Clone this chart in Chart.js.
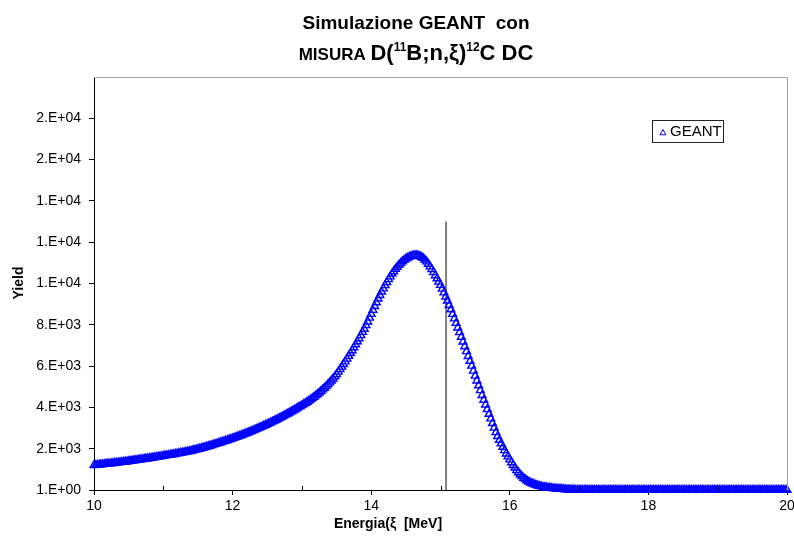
<!DOCTYPE html>
<html>
<head>
<meta charset="utf-8">
<title>Simulazione GEANT</title>
<script src="https://cdn.jsdelivr.net/npm/chart.js@4.4.0/dist/chart.umd.min.js"></script>
<style>
  html, body { margin: 0; padding: 0; background: #fff; }
  #wrap { width: 794px; height: 536px; }
</style>
</head>
<body>
<div id="wrap"><canvas id="geantChart" width="794" height="536"></canvas></div>
<script>
// Energia (MeV) and GEANT yield
const energia = [
  10.000, 10.025, 10.050, 10.075, 10.100, 10.125, 10.150, 10.175, 10.200, 10.225,
  10.250, 10.275, 10.300, 10.325, 10.350, 10.375, 10.400, 10.425, 10.450, 10.475,
  10.500, 10.525, 10.550, 10.575, 10.600, 10.625, 10.650, 10.675, 10.700, 10.725,
  10.750, 10.775, 10.800, 10.825, 10.850, 10.875, 10.900, 10.925, 10.950, 10.975,
  11.000, 11.025, 11.050, 11.075, 11.100, 11.125, 11.150, 11.175, 11.200, 11.225,
  11.250, 11.275, 11.300, 11.325, 11.350, 11.375, 11.400, 11.425, 11.450, 11.475,
  11.500, 11.525, 11.550, 11.575, 11.600, 11.625, 11.650, 11.675, 11.700, 11.725,
  11.750, 11.775, 11.800, 11.825, 11.850, 11.875, 11.900, 11.925, 11.950, 11.975,
  12.000, 12.025, 12.050, 12.075, 12.100, 12.125, 12.150, 12.175, 12.200, 12.225,
  12.250, 12.275, 12.300, 12.325, 12.350, 12.375, 12.400, 12.425, 12.450, 12.475,
  12.500, 12.525, 12.550, 12.575, 12.600, 12.625, 12.650, 12.675, 12.700, 12.725,
  12.750, 12.775, 12.800, 12.825, 12.850, 12.875, 12.900, 12.925, 12.950, 12.975,
  13.000, 13.025, 13.050, 13.075, 13.100, 13.125, 13.150, 13.175, 13.200, 13.225,
  13.250, 13.275, 13.300, 13.325, 13.350, 13.375, 13.400, 13.425, 13.450, 13.475,
  13.500, 13.525, 13.550, 13.575, 13.600, 13.625, 13.650, 13.675, 13.700, 13.725,
  13.750, 13.775, 13.800, 13.825, 13.850, 13.875, 13.900, 13.925, 13.950, 13.975,
  14.000, 14.025, 14.050, 14.075, 14.100, 14.125, 14.150, 14.175, 14.200, 14.225,
  14.250, 14.275, 14.300, 14.325, 14.350, 14.375, 14.400, 14.425, 14.450, 14.475,
  14.500, 14.525, 14.550, 14.575, 14.600, 14.625, 14.650, 14.675, 14.700, 14.725,
  14.750, 14.775, 14.800, 14.825, 14.850, 14.875, 14.900, 14.925, 14.950, 14.975,
  15.000, 15.025, 15.050, 15.075, 15.100, 15.125, 15.150, 15.175, 15.200, 15.225,
  15.250, 15.275, 15.300, 15.325, 15.350, 15.375, 15.400, 15.425, 15.450, 15.475,
  15.500, 15.525, 15.550, 15.575, 15.600, 15.625, 15.650, 15.675, 15.700, 15.725,
  15.750, 15.775, 15.800, 15.825, 15.850, 15.875, 15.900, 15.925, 15.950, 15.975,
  16.000, 16.025, 16.050, 16.075, 16.100, 16.125, 16.150, 16.175, 16.200, 16.225,
  16.250, 16.275, 16.300, 16.325, 16.350, 16.375, 16.400, 16.425, 16.450, 16.475,
  16.500, 16.525, 16.550, 16.575, 16.600, 16.625, 16.650, 16.675, 16.700, 16.725,
  16.750, 16.775, 16.800, 16.825, 16.850, 16.875, 16.900, 16.925, 16.950, 16.975,
  17.000, 17.025, 17.050, 17.075, 17.100, 17.125, 17.150, 17.175, 17.200, 17.225,
  17.250, 17.275, 17.300, 17.325, 17.350, 17.375, 17.400, 17.425, 17.450, 17.475,
  17.500, 17.525, 17.550, 17.575, 17.600, 17.625, 17.650, 17.675, 17.700, 17.725,
  17.750, 17.775, 17.800, 17.825, 17.850, 17.875, 17.900, 17.925, 17.950, 17.975,
  18.000, 18.025, 18.050, 18.075, 18.100, 18.125, 18.150, 18.175, 18.200, 18.225,
  18.250, 18.275, 18.300, 18.325, 18.350, 18.375, 18.400, 18.425, 18.450, 18.475,
  18.500, 18.525, 18.550, 18.575, 18.600, 18.625, 18.650, 18.675, 18.700, 18.725,
  18.750, 18.775, 18.800, 18.825, 18.850, 18.875, 18.900, 18.925, 18.950, 18.975,
  19.000, 19.025, 19.050, 19.075, 19.100, 19.125, 19.150, 19.175, 19.200, 19.225,
  19.250, 19.275, 19.300, 19.325, 19.350, 19.375, 19.400, 19.425, 19.450, 19.475,
  19.500, 19.525, 19.550, 19.575, 19.600, 19.625, 19.650, 19.675, 19.700, 19.725,
  19.750, 19.775, 19.800, 19.825, 19.850, 19.875, 19.900, 19.925, 19.950, 19.975,
  20.000
];
const yieldGeant = [
  1200, 1209, 1218, 1227, 1236, 1245, 1254, 1263, 1272, 1281,
  1290, 1300, 1310, 1320, 1330, 1340, 1350, 1361, 1372, 1383,
  1395, 1406, 1418, 1430, 1442, 1454, 1466, 1478, 1490, 1502,
  1515, 1527, 1540, 1553, 1566, 1579, 1593, 1606, 1620, 1635,
  1650, 1664, 1678, 1692, 1706, 1720, 1735, 1750, 1765, 1780,
  1795, 1811, 1827, 1843, 1860, 1878, 1897, 1917, 1937, 1958,
  1980, 2002, 2025, 2048, 2072, 2096, 2120, 2145, 2170, 2196,
  2222, 2249, 2276, 2303, 2330, 2357, 2385, 2413, 2442, 2471,
  2500, 2530, 2560, 2591, 2622, 2654, 2686, 2719, 2752, 2786,
  2820, 2855, 2890, 2926, 2962, 2999, 3036, 3074, 3112, 3151,
  3190, 3230, 3270, 3311, 3352, 3394, 3437, 3481, 3525, 3570,
  3615, 3661, 3708, 3755, 3803, 3851, 3900, 3950, 4000, 4051,
  4103, 4156, 4210, 4265, 4320, 4380, 4440, 4505, 4570, 4640,
  4710, 4785, 4860, 4940, 5020, 5110, 5200, 5295, 5390, 5495,
  5600, 5720, 5840, 5965, 6090, 6220, 6350, 6485, 6620, 6760,
  6900, 7045, 7190, 7340, 7490, 7645, 7800, 7975, 8150, 8335,
  8520, 8710, 8900, 9080, 9260, 9430, 9600, 9755, 9910, 10055,
  10200, 10335, 10470, 10585, 10700, 10800, 10900, 10985, 11070, 11135,
  11200, 11245, 11290, 11320, 11350, 11362, 11370, 11355, 11330, 11285,
  11230, 11150, 11060, 10945, 10820, 10685, 10540, 10390, 10240, 10080,
  9920, 9740, 9560, 9360, 9160, 8950, 8740, 8520, 8300, 8080,
  7860, 7635, 7410, 7180, 6950, 6715, 6480, 6245, 6010, 5770,
  5530, 5295, 5060, 4825, 4590, 4360, 4130, 3905, 3680, 3455,
  3230, 3010, 2790, 2605, 2420, 2250, 2080, 1920, 1760, 1615,
  1470, 1335, 1200, 1075, 950, 850, 750, 665, 580, 515,
  450, 400, 350, 315, 280, 250, 220, 197, 175, 157,
  140, 125, 110, 100, 90, 81, 72, 65, 58, 51,
  45, 37, 30, 25, 20, 16, 12, 10, 8, 6,
  5, 0, 0, 0, 0, 0, 0, 0, 0, 0,
  0, 0, 0, 0, 0, 0, 0, 0, 0, 0,
  0, 0, 0, 0, 0, 0, 0, 0, 0, 0,
  0, 0, 0, 0, 0, 0, 0, 0, 0, 0,
  0, 0, 0, 0, 0, 0, 0, 0, 0, 0,
  0, 0, 0, 0, 0, 0, 0, 0, 0, 0,
  0, 0, 0, 0, 0, 0, 0, 0, 0, 0,
  0, 0, 0, 0, 0, 0, 0, 0, 0, 0,
  0, 0, 0, 0, 0, 0, 0, 0, 0, 0,
  0, 0, 0, 0, 0, 0, 0, 0, 0, 0,
  0, 0, 0, 0, 0, 0, 0, 0, 0, 0,
  0, 0, 0, 0, 0, 0, 0, 0, 0, 0,
  0
];
// vertical marker line
const lineaX = [15.08, 15.08];
const lineaY = [1, 13000];

// axis ticks
const xTicks = [10, 11, 12, 13, 14, 15, 16, 17, 18, 19, 20];
const yTicks = [1, 2001, 4001, 6001, 8001, 10001, 12001, 14001, 16001, 18001];
const yMin = 1, yMax = 20001;

const FONT = "'Liberation Sans', Arial, sans-serif";

// Excel style 0.E+00 label
function fmtExp(v) {
  const parts = Number(v).toExponential(0).split('e');
  const exp = parseInt(parts[1], 10);
  const sign = exp < 0 ? '-' : '+';
  return parts[0] + '.E' + sign + String(Math.abs(exp)).padStart(2, '0');
}

function drawTriangle(ctx, x, y, r) {
  ctx.beginPath();
  ctx.moveTo(x, y - r);
  ctx.lineTo(x + r * 0.866, y + r * 0.5);
  ctx.lineTo(x - r * 0.866, y + r * 0.5);
  ctx.closePath();
  ctx.stroke();
}

const decorPlugin = {
  id: 'decor',
  afterDraw(chart) {
    const ctx = chart.ctx;
    const a = chart.chartArea;
    const xs = chart.scales.x;
    ctx.save();

    // top and right frame
    ctx.strokeStyle = '#a0a0a0';
    ctx.lineWidth = 1;
    ctx.beginPath();
    ctx.moveTo(a.left, a.top + 0.5);
    ctx.lineTo(a.right + 0.5, a.top + 0.5);
    ctx.lineTo(a.right + 0.5, a.bottom);
    ctx.stroke();

    // minor x ticks, pointing inward
    ctx.strokeStyle = '#000';
    xTicks.forEach(v => {
      if (v % 2 !== 0) {
        const px = Math.round(xs.getPixelForValue(v)) + 0.5;
        ctx.beginPath();
        ctx.moveTo(px, a.bottom);
        ctx.lineTo(px, a.bottom - 4);
        ctx.stroke();
      }
    });

    // title, line 1
    ctx.fillStyle = '#000';
    ctx.textBaseline = 'alphabetic';
    ctx.textAlign = 'center';
    ctx.font = 'bold 19px ' + FONT;
    ctx.fillText('Simulazione GEANT  con', 416, 29);

    // title, line 2 with superscripts
    const segs = [
      { t: 'MISURA ', size: 17, dy: 0 },
      { t: 'D(', size: 22, dy: 0 },
      { t: '11', size: 12, dy: -9 },
      { t: 'B;n,ξ)', size: 22, dy: 0 },
      { t: '12', size: 12, dy: -9 },
      { t: 'C DC', size: 22, dy: 0 }
    ];
    let total = 0;
    segs.forEach(s => {
      ctx.font = 'bold ' + s.size + 'px ' + FONT;
      s.w = ctx.measureText(s.t).width;
      total += s.w;
    });
    let cx = 416 - total / 2;
    ctx.textAlign = 'left';
    segs.forEach(s => {
      ctx.font = 'bold ' + s.size + 'px ' + FONT;
      ctx.fillText(s.t, cx, 60 + s.dy);
      cx += s.w;
    });

    // axis titles
    ctx.font = 'bold 14px ' + FONT;
    ctx.textAlign = 'center';
    ctx.fillText('Energia(ξ  [MeV]', 388, 528);
    ctx.save();
    ctx.translate(23, 283);
    ctx.rotate(-Math.PI / 2);
    ctx.fillText('Yield', 0, 0);
    ctx.restore();

    // legend box
    const ds = chart.data.datasets[0];
    ctx.fillStyle = '#fff';
    ctx.fillRect(652, 120, 72, 23);
    ctx.strokeStyle = '#222';
    ctx.lineWidth = 1;
    ctx.strokeRect(652.5, 120.5, 71, 22);
    ctx.strokeStyle = ds.borderColor;
    drawTriangle(ctx, 663, 133, 3.5);
    ctx.fillStyle = '#000';
    ctx.font = '15px ' + FONT;
    ctx.textAlign = 'left';
    ctx.textBaseline = 'middle';
    ctx.fillText(ds.label, 670, 132);

    ctx.restore();
  }
};

new Chart(document.getElementById('geantChart').getContext('2d'), {
  type: 'scatter',
  data: {
    datasets: [
      {
        label: 'GEANT',
        data: energia.map((e, i) => ({ x: e, y: yieldGeant[i] })),
        pointStyle: 'triangle',
        pointRadius: 4.5,
        borderColor: '#0000ff',
        backgroundColor: 'rgba(255,255,255,0)',
        borderWidth: 1.4,
        showLine: false,
        clip: false,
        order: 1
      },
      {
        label: 'linea',
        data: lineaX.map((e, i) => ({ x: e, y: lineaY[i] })),
        showLine: true,
        borderColor: '#808080',
        borderWidth: 2,
        pointRadius: 0,
        order: 2
      }
    ]
  },
  options: {
    responsive: false,
    animation: false,
    layout: { padding: { top: 77, right: 7, left: 0, bottom: 0 } },
    plugins: {
      legend: { display: false },
      tooltip: { enabled: false },
      title: { display: false }
    },
    scales: {
      x: {
        type: 'linear',
        min: 10,
        max: 20,
        afterBuildTicks: scale => { scale.ticks = xTicks.map(v => ({ value: v })); },
        afterFit: scale => {
          scale.height = 46;
          scale.paddingLeft = 0;
          scale.paddingRight = 0;
        },
        ticks: {
          autoSkip: false,
          maxRotation: 0,
          padding: 3,
          color: '#000',
          font: { family: FONT, size: 14 },
          callback: v => (v % 2 === 0 ? String(v) : '')
        },
        grid: {
          drawOnChartArea: false,
          drawTicks: true,
          tickLength: 5,
          color: c => (c.tick && c.tick.value % 2 !== 0 ? 'rgba(0,0,0,0)' : '#000')
        },
        border: { color: '#000', width: 1 }
      },
      y: {
        type: 'linear',
        min: yMin,
        max: yMax,
        afterBuildTicks: scale => { scale.ticks = yTicks.map(v => ({ value: v })); },
        afterFit: scale => {
          scale.width = 94;
          scale.paddingTop = 0;
          scale.paddingBottom = 0;
        },
        ticks: {
          autoSkip: false,
          padding: 8,
          color: '#000',
          font: { family: FONT, size: 14 },
          callback: v => fmtExp(v)
        },
        grid: {
          drawOnChartArea: false,
          drawTicks: true,
          tickLength: 5,
          color: '#000'
        },
        border: { color: '#000', width: 1 }
      }
    }
  },
  plugins: [decorPlugin]
});
</script>
</body>
</html>
